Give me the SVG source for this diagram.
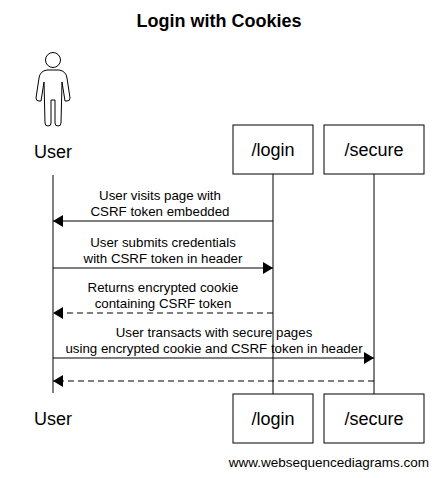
<svg xmlns="http://www.w3.org/2000/svg" width="439" height="478" viewBox="0 0 439 478">
<style>
text{font-family:"Liberation Sans",Arial,sans-serif;fill:#000}
.t{font-size:18px;text-anchor:middle}
.m{font-size:13.3px;text-anchor:middle}
.box{fill:#fff;stroke:#000;stroke-width:1}
.ll{stroke:#000;stroke-width:1}
.msg{stroke:#000;stroke-width:1;fill:none}
.d{stroke-dasharray:6,4}
</style>
<defs>
<marker id="a" markerWidth="10" markerHeight="12" refX="10" refY="6" orient="auto" markerUnits="userSpaceOnUse"><path d="M0,0L10,6L0,12Z" fill="#000"/></marker>
</defs>
<rect width="439" height="478" fill="#fff"/>
<text x="219" y="27" font-size="18" font-weight="bold" text-anchor="middle">Login with Cookies</text>
<g id="user">
<circle cx="53" cy="60" r="7.5" fill="#fff" stroke="#000"/>
<path d="M47,70 H59 Q66,71 67,78 L70,98 Q70,101 67,101 L65,101 L62,82 L61,123 Q61,126 58,126 Q55,126 55,123 L55,100 H51 L51,123 Q51,126 48,126 Q45,126 45,123 L44,82 L41,101 L39,101 Q36,101 36,98 L39,78 Q40,71 47,70 Z" fill="#fff" stroke="#000"/>
<text class="t" x="53" y="158">User</text>
<line class="ll" x1="53" y1="175" x2="53" y2="393"/>
<text class="t" x="53" y="425">User</text>
</g>
<g id="login">
<rect class="box" x="233" y="125" width="80" height="49"/>
<text class="t" x="273" y="156">/login</text>
<line class="ll" x1="273" y1="174" x2="273" y2="394"/>
<rect class="box" x="233" y="394" width="80" height="49"/>
<text class="t" x="273" y="425">/login</text>
</g>
<g id="secure">
<rect class="box" x="324" y="125" width="100" height="49"/>
<text class="t" x="374" y="156">/secure</text>
<line class="ll" x1="374" y1="174" x2="374" y2="394"/>
<rect class="box" x="324" y="394" width="100" height="49"/>
<text class="t" x="374" y="425">/secure</text>
</g>
<g id="connectors">
<line class="msg" x1="273" y1="221" x2="53" y2="221" marker-end="url(#a)"/>
<text class="m" x="160" y="200">User visits page with</text>
<text class="m" x="160" y="216">CSRF token embedded</text>
<line class="msg" x1="53" y1="268" x2="273" y2="268" marker-end="url(#a)"/>
<text class="m" x="163" y="247">User submits credentials</text>
<text class="m" x="163" y="263">with CSRF token in header</text>
<line class="msg d" x1="273" y1="313" x2="53" y2="313" marker-end="url(#a)"/>
<text class="m" x="163" y="292">Returns encrypted cookie</text>
<text class="m" x="163" y="308">containing CSRF token</text>
<line class="msg" x1="53" y1="358" x2="374" y2="358" marker-end="url(#a)"/>
<text class="m" x="214" y="337">User transacts with secure pages</text>
<text class="m" x="214" y="353">using encrypted cookie and CSRF token in header</text>
<line class="msg d" x1="374" y1="381" x2="53" y2="381" marker-end="url(#a)"/>
</g>
<text x="429" y="467" font-size="13.5" text-anchor="end">www.websequencediagrams.com</text>
</svg>
